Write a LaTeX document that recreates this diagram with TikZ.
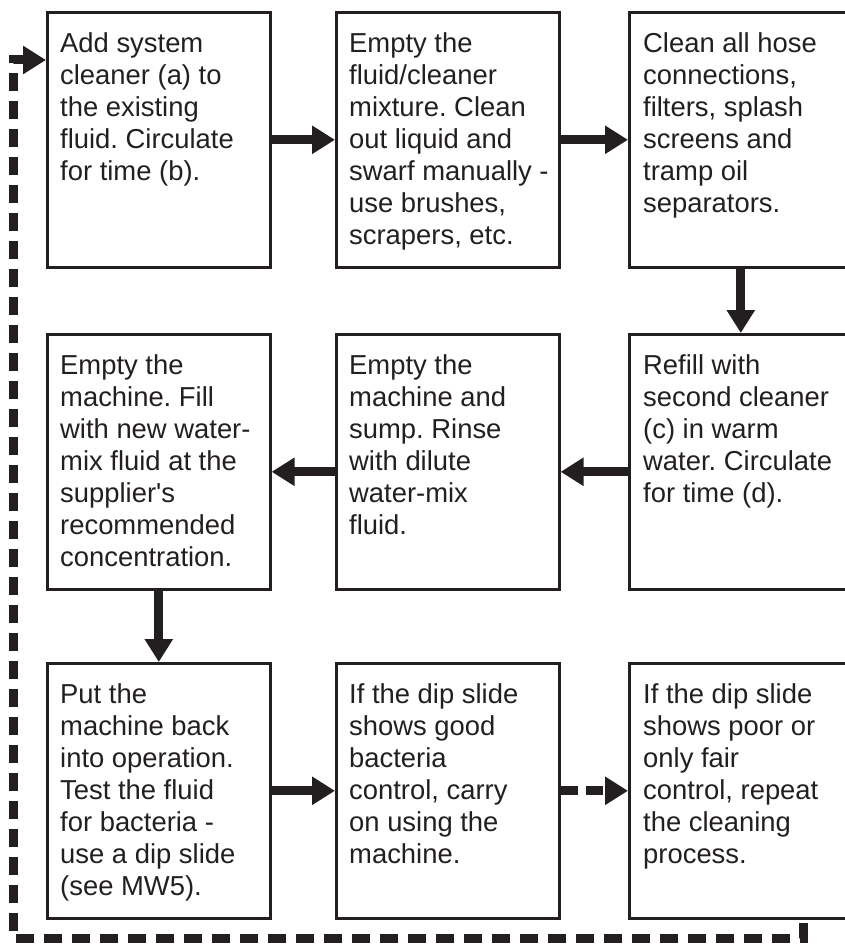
\documentclass[tikz,border=0pt]{standalone}
\usepackage{fontspec}
\setmainfont{Liberation Sans}[Ligatures=TeXOff]
\usetikzlibrary{arrows.meta,calc}
\definecolor{ink}{HTML}{231F20}
\frenchspacing
\begin{document}
\begin{tikzpicture}[x=1pt,y=-1pt,
  box/.style={draw=ink,line width=2.6pt,minimum width=223pt,minimum height=255pt,inner sep=0pt,anchor=north west},
  txt/.style={anchor=north west,inner sep=0pt,align=left,text=ink,font=\fontsize{27.4}{32}\selectfont},
  arr/.style={draw=ink,line width=9pt,-{Triangle[length=23pt,width=27pt]}},
  fb/.style={draw=ink,line width=9pt,dash pattern=on 18pt off 10pt,-{Triangle[length=23pt,width=27pt]}},
  shortdash/.style={dash pattern=on 17pt off 8pt}
]
\useasboundingbox (0,0) rectangle (845,944);
% boxes
\node[box] (b1) at (46,11) {};
\node[box] (b2) at (335,11) {};
\node[box] (b3) at (628,11) {};
\node[box] (b4) at (46,333) {};
\node[box] (b5) at (335,333) {};
\node[box] (b6) at (628,333) {};
\node[box] (b7) at (46,662) {};
\node[box] (b8) at (335,662) {};
\node[box] (b9) at (628,662) {};
% texts
\node[txt] (t1) at ($(b1.north west)+(14,21)$) {Add system\\cleaner (a) to\\the existing\\fluid. Circulate\\for time (b).};
\node[txt] (t2) at ($(b2.north west)+(14,21)$) {Empty the\\fluid/cleaner\\mixture. Clean\\out liquid and\\swarf manually -\\use brushes,\\scrapers, etc.};
\node[txt] (t3) at ($(b3.north west)+(15,21)$) {Clean all hose\\connections,\\filters, splash\\screens and\\tramp oil\\separators.};
\node[txt] (t4) at ($(b4.north west)+(14,21)$) {Empty the\\machine. Fill\\with new water-\\mix fluid at the\\supplier's\\recommended\\concentration.};
\node[txt] (t5) at ($(b5.north west)+(14,21)$) {Empty the\\machine and\\sump. Rinse\\with dilute\\water-mix\\fluid.};
\node[txt] (t6) at ($(b6.north west)+(15,21)$) {Refill with\\second cleaner\\(c) in warm\\water. Circulate\\for time (d).};
\node[txt] (t7) at ($(b7.north west)+(14,21)$) {Put the\\machine back\\into operation.\\Test the fluid\\for bacteria -\\use a dip slide\\(see MW5).};
\node[txt] (t8) at ($(b8.north west)+(14,21)$) {If the dip slide\\shows good\\bacteria\\control, carry\\on using the\\machine.};
\node[txt] (t9) at ($(b9.north west)+(15,21)$) {If the dip slide\\shows poor or\\only fair\\control, repeat\\the cleaning\\process.};
% connectors
\draw[arr] (b1.east) -- (b2.west);
\draw[arr] (b2.east) -- (b3.west);
\draw[arr] (b3.south) -- (b6.north);
\draw[arr] ([yshift=-10pt]b6.west) -- ([yshift=-10pt]b5.east);
\draw[arr] ([yshift=-10pt]b5.west) -- ([yshift=-10pt]b4.east);
\draw[arr] (b4.south) -- (b7.north);
\draw[arr] (b7.east) -- (b8.west);
\draw[arr,shortdash] (b8.east) -- (b9.west);
% feedback loop
\coordinate (fbin) at ($(b1.north west)+(0,49)$);
\coordinate (fbout) at ($(b9.south west)+(175,3)$);
\coordinate (fbc) at (13,938);
\draw[fb] (fbout) |- (fbc) |- (fbin);
\end{tikzpicture}
\end{document}
